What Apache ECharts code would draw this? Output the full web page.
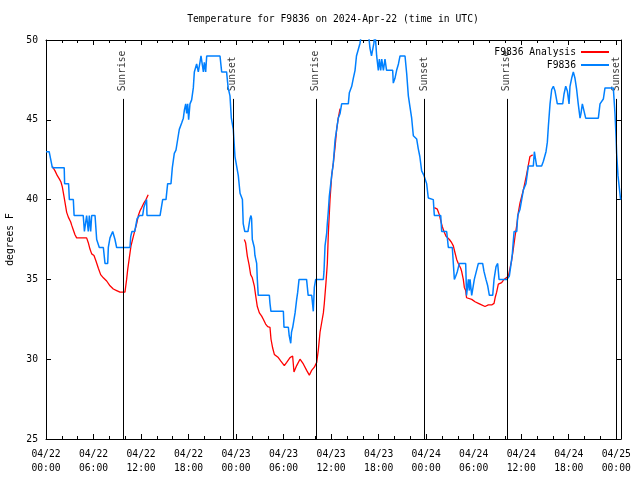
<!DOCTYPE html>
<html><head><meta charset="utf-8">
<script src="https://cdn.jsdelivr.net/npm/echarts@6/dist/echarts.min.js"></script>
<style>html,body{margin:0;padding:0;background:#fff}#c{width:640px;height:480px}</style>
</head><body><div id="c"></div>
<script>
// Hours since 2024-04-22 00:00 UTC
const blueHours = [0.0,0.4,0.6,0.8,2.3,2.35,2.85,2.95,3.45,3.55,4.7,4.85,5.0,5.13,5.34,5.47,5.64,5.77,6.19,6.4,6.73,7.24,7.45,7.79,7.87,8.08,8.42,8.71,8.92,10.6,10.7,10.85,11.2,11.5,11.8,12.2,12.35,12.7,12.75,14.4,14.73,15.15,15.36,15.78,15.95,16.2,16.41,16.62,16.83,17.13,17.34,17.47,17.64,17.76,17.89,18.01,18.18,18.39,18.6,18.73,18.94,19.02,19.23,19.44,19.57,19.74,19.87,19.99,20.16,20.29,21.97,22.18,22.8,22.9,23.0,23.23,23.4,23.57,23.65,23.73,23.86,24.07,24.28,24.5,24.7,24.8,24.9,25.1,25.5,25.75,25.88,25.96,26.05,26.3,26.38,26.6,26.68,26.8,28.2,28.28,28.4,29.97,30.05,30.6,30.7,30.9,31.0,31.15,31.45,31.65,31.78,31.95,32.9,33.1,33.55,33.67,33.75,33.88,34.05,35.02,35.1,35.23,35.44,35.52,35.65,35.77,36.07,36.28,36.5,36.7,36.9,37.13,37.33,38.17,38.3,38.6,38.8,39.02,39.2,39.65,39.86,40.7,40.9,41.1,41.3,41.4,41.54,41.75,41.96,42.09,42.26,42.39,42.6,42.8,43.0,43.77,43.85,44.06,44.27,44.5,44.7,45.33,45.54,45.75,45.96,46.17,46.38,46.8,47.0,47.2,47.43,47.73,48.06,48.27,48.9,49.03,49.84,49.96,50.59,50.8,51.3,51.43,51.56,51.73,51.94,52.19,52.99,53.1,53.33,53.45,53.54,53.75,53.96,54.08,54.29,54.59,55.13,55.3,55.55,55.77,55.98,56.4,56.57,56.82,57.03,57.2,58.17,58.5,58.67,58.88,59.1,59.44,59.56,59.85,60.06,60.27,60.6,60.9,61.53,61.66,61.83,61.95,62.58,62.8,63.13,63.3,63.43,63.64,63.85,64.06,64.27,64.56,65.24,65.4,65.62,65.83,66.04,66.16,66.37,66.58,66.79,67.0,67.2,67.43,67.55,67.72,67.93,68.14,69.74,69.95,70.16,70.37,70.58,71.63,71.84,71.97,72.05,72.22,72.55];
const blueTemps = [43.0,43.0,42.5,42.0,42.0,41.0,41.0,40.0,40.0,39.0,39.0,38.0,38.0,39.0,38.0,39.0,38.0,39.0,39.0,37.5,37.0,37.0,36.0,36.0,37.0,37.6,38.0,37.5,37.0,37.0,37.7,38.0,38.0,38.8,39.0,39.0,39.5,40.0,39.0,39.0,40.0,40.0,41.0,41.0,42.0,42.9,43.1,43.75,44.4,44.8,45.1,45.6,46.0,45.4,46.0,45.0,46.0,46.25,47.0,48.0,48.0,48.5,48.0,48.6,49.0,49.0,48.0,48.6,48.0,49.0,49.0,48.0,48.0,47.9,47.0,46.5,45.1,45.0,44.4,43.75,42.7,42.1,41.5,40.4,40.4,40.0,38.5,38.0,38.0,38.8,39.0,38.8,37.5,37.0,36.5,36.0,35.0,34.0,34.0,33.5,33.0,33.0,32.0,32.0,31.5,31.0,31.7,32.0,32.9,33.75,34.2,35.0,35.0,34.0,34.0,33.4,33.0,34.5,35.0,35.0,35.5,37.1,37.9,38.5,39.3,40.2,41.5,42.3,43.75,44.4,45.1,45.4,46.0,46.0,46.7,47.1,47.6,48.1,49.0,49.8,50.5,50.5,49.5,49.0,49.0,49.8,50.5,49.0,48.1,48.8,48.1,48.8,48.1,48.8,48.1,48.1,47.3,47.6,48.1,48.5,49.0,49.0,47.9,46.5,45.8,45.1,44.0,43.8,43.2,42.7,41.8,41.5,41.0,40.1,40.0,39.0,39.0,38.0,38.0,37.0,37.0,36.0,35.0,35.2,35.5,36.0,36.0,34.0,35.0,34.3,35.0,34.0,34.0,35.0,35.0,36.0,36.0,35.5,35.0,34.6,34.0,34.0,35.0,35.8,36.0,35.0,35.0,35.2,35.8,36.6,38.0,38.0,39.0,39.4,40.0,40.6,41.0,42.1,42.1,43.0,43.1,42.1,42.1,42.4,43.0,43.6,44.6,46.0,46.9,47.1,46.8,46.0,46.0,46.6,47.1,46.8,46.0,47.1,47.6,48.0,47.6,46.9,46.0,45.1,45.4,46.0,45.9,45.1,45.1,46.0,46.0,46.3,47.0,47.0,45.4,44.0,42.9,41.5,40.0];
const redHours = [0.8,1.14,1.43,1.68,1.89,2.06,2.27,2.44,2.61,2.82,2.95,3.12,3.24,3.45,3.66,3.87,5.13,5.34,5.55,5.77,6.06,6.31,6.61,6.9,7.24,7.66,8.08,8.5,8.92,9.34,9.97,10.18,10.31,10.52,10.73,11.03,11.24,11.45,11.66,11.87,12.08,12.37,12.63,12.9,
  13.0,
  25.04,25.2,25.42,25.65,25.84,26.05,26.3,26.47,26.68,26.94,27.23,27.44,27.73,27.99,28.28,28.41,28.62,28.83,29.04,29.33,29.63,30.09,30.39,30.81,31.14,31.31,31.65,32.07,32.49,32.91,33.25,33.54,33.88,34.18,34.39,34.6,34.81,35.02,35.14,35.35,35.52,35.65,35.86,36.07,36.28,36.5,36.7,36.9,37.13,
  37.3,
  49.03,49.41,49.66,49.83,50.04,50.25,50.51,50.72,50.93,51.22,51.43,51.64,51.85,52.06,52.36,52.48,52.69,52.82,52.99,53.1,53.33,53.75,54.17,54.59,55.0,55.43,55.85,56.27,56.57,56.73,56.9,57.11,57.53,57.83,58.08,58.38,58.59,58.8,59.0,59.22,59.44,59.64,59.85,60.27,60.69,61.1,61.45];
const redTemps = [42.08,41.8,41.5,41.3,41.1,40.8,40.2,39.7,39.2,38.9,38.8,38.6,38.4,38.1,37.8,37.6,37.6,37.3,36.9,36.6,36.5,36.15,35.7,35.3,35.1,34.9,34.6,34.4,34.3,34.2,34.2,35.0,35.6,36.35,37.1,37.7,38.1,38.5,39.0,39.3,39.5,39.8,40.0,40.3,
  null,
  37.5,37.3,36.46,35.9,35.3,35.1,34.6,34.0,33.3,32.9,32.7,32.5,32.2,32.04,32.0,31.25,30.7,30.3,30.2,30.1,29.9,29.6,29.8,30.1,30.2,29.2,29.6,30.0,29.7,29.3,29.0,29.3,29.5,29.8,30.6,31.7,32.3,32.9,33.5,34.8,36.0,37.9,40.0,41.5,42.3,43.3,44.4,45.1,45.7,
  null,
  39.5,39.4,39.06,38.7,38.3,38.0,37.7,37.8,37.5,37.3,37.1,36.67,36.25,36.0,35.7,35.5,35.0,34.5,34.3,33.85,33.8,33.75,33.6,33.5,33.4,33.3,33.4,33.4,33.5,33.9,34.2,34.7,34.8,35.0,35.1,35.2,35.7,36.2,36.9,37.7,38.4,39.2,39.8,40.6,41.6,42.7,42.8];
const sunriseHours = [9.76, 34.07, 58.19];
const sunsetHours = [23.66, 47.79, 72.06];
const tickLabels = ['04/22\n00:00','04/22\n06:00','04/22\n12:00','04/22\n18:00','04/23\n00:00','04/23\n06:00','04/23\n12:00','04/23\n18:00','04/24\n00:00','04/24\n06:00','04/24\n12:00','04/24\n18:00','04/25\n00:00'];

const FONT = 'DejaVu Sans Mono';
const FS = 9.7;
const LINE_TOP = 46.31, LABEL_Y = 46.75;

const blueData = blueHours.map((h, i) => [h, blueTemps[i]]);
const redData = redHours.map((h, i) => [h, redTemps[i] == null ? '-' : redTemps[i]]);
const events = sunriseHours.map(h => ({h, name: 'Sunrise'})).concat(sunsetHours.map(h => ({h, name: 'Sunset'})));

const xBase = {
  type: 'value', min: 0, max: 72.6, interval: 6,
  axisLine: {show: true, onZero: false, lineStyle: {color: '#000', width: 1}},
  axisTick: {show: true, inside: true, length: 5, lineStyle: {color: '#000', width: 1}},
  minorTick: {show: true, splitNumber: 3, length: 3, lineStyle: {color: '#000', width: 1}},
  splitLine: {show: false}, minorSplitLine: {show: false}
};
const yBase = {
  type: 'value', min: 25, max: 50, interval: 5,
  axisLine: {show: true, onZero: false, lineStyle: {color: '#000', width: 1}},
  axisTick: {show: true, inside: true, length: 5, lineStyle: {color: '#000', width: 1}},
  splitLine: {show: false}
};

const chart = echarts.init(document.getElementById('c'), null, {renderer: 'canvas'});
chart.setOption({
  animation: false,
  backgroundColor: '#fff',
  title: {
    text: 'Temperature for F9836 on 2024-Apr-22 (time in UTC)',
    left: 333, top: 14, textAlign: 'center', padding: 0,
    textStyle: {fontFamily: FONT, fontSize: FS, fontWeight: 'normal', color: '#000'}
  },
  legend: {
    orient: 'vertical', right: 26, top: 41, align: 'right',
    itemWidth: 28, itemHeight: 2, itemGap: 1, icon: 'rect',
    textStyle: {fontFamily: FONT, fontSize: FS, color: '#000', lineHeight: 12},
    data: ['F9836 Analysis', 'F9836']
  },
  grid: {left: 46, right: 19, top: 40, bottom: 41, containLabel: false, outerBoundsMode: 'none'},
  xAxis: [
    Object.assign({}, xBase, {
      position: 'bottom',
      axisLabel: {
        color: '#000', fontFamily: FONT, fontSize: FS, lineHeight: 14, margin: 8,
        formatter: v => { const i = Math.round(v / 6); return Math.abs(v - i * 6) < 1e-6 && tickLabels[i] ? tickLabels[i] : ''; }
      }
    }),
    Object.assign({}, xBase, {position: 'top', axisLabel: {show: false}})
  ],
  yAxis: [
    Object.assign({}, yBase, {
      position: 'left',
      name: 'degrees F', nameLocation: 'middle', nameGap: 31, nameRotate: 90,
      nameTextStyle: {fontFamily: FONT, fontSize: FS, color: '#000'},
      axisLabel: {color: '#000', fontFamily: FONT, fontSize: FS, margin: 8}
    }),
    Object.assign({}, yBase, {position: 'right', axisLabel: {show: false}})
  ],
  series: [
    {
      type: 'scatter', name: 'events', xAxisIndex: 0, yAxisIndex: 0,
      symbolSize: 1, itemStyle: {color: 'rgba(0,0,0,0)'}, silent: true,
      data: events.map(e => ({value: [e.h, LABEL_Y], name: e.name})),
      label: {
        show: true, position: [0, 0], rotate: 90, align: 'left', verticalAlign: 'middle',
        formatter: p => p.name, color: '#000', fontFamily: FONT, fontSize: FS
      },
      markLine: {
        silent: true, symbol: ['none', 'none'], animation: false,
        label: {show: false},
        lineStyle: {color: '#000', width: 1, type: 'solid'},
        emphasis: {disabled: true},
        data: events.map(e => [{coord: [e.h, 25]}, {coord: [e.h, LINE_TOP]}])
      },
      z: 1
    },
    {
      type: 'line', name: 'F9836 Analysis', data: redData,
      showSymbol: false, symbol: 'none', connectNulls: false,
      lineStyle: {color: '#ff0000', width: 1.3}, itemStyle: {color: '#ff0000'}, z: 2
    },
    {
      type: 'line', name: 'F9836', data: blueData,
      showSymbol: false, symbol: 'none',
      lineStyle: {color: '#0080ff', width: 1.5}, itemStyle: {color: '#0080ff'}, z: 3
    }
  ]
});
</script></body></html>
